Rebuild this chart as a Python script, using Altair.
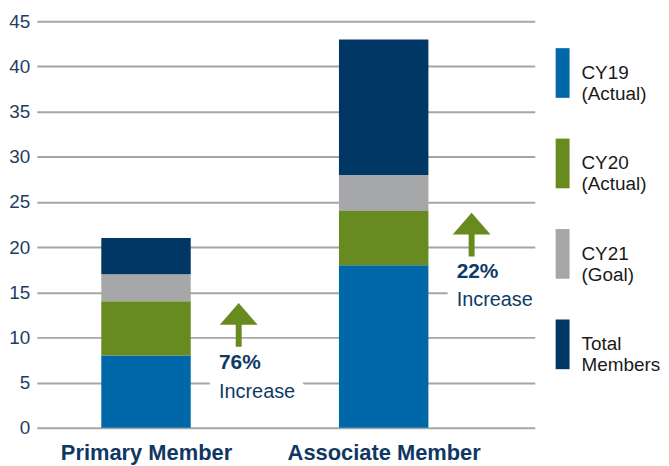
import altair as alt
import pandas as pd

# ---- data ----
categories = ["Primary Member", "Associate Member"]
cat_pos = [0, 1]
series = ["CY19", "CY20", "CY21", "Total"]
series_lines = [["CY19", "(Actual)"], ["CY20", "(Actual)"], ["CY21", "(Goal)"], ["Total", "Members"]]
primary_values = [8, 6, 3, 4]
associate_values = [18, 6, 4, 15]
colors = ["#0068a8", "#688b1f", "#a6a7a9", "#003764"]

arrow_x = [0.39, 1.37]
arrow_y = [11.4, 21.4]
text_x = [0.307, 1.307]
pct_text = ["76%", "22%"]
pct_y = [7.2, 17.3]
inc_text = ["Increase", "Increase"]
inc_y = [4.0, 14.2]

rows = []
for pos, vals in zip(cat_pos, [primary_values, associate_values]):
    for i, (s, v) in enumerate(zip(series, vals)):
        rows.append({"pos": pos, "series": s, "value": v, "order": i})
bar_df = pd.DataFrame(rows)
arrow_df = pd.DataFrame({"pos": arrow_x, "yv": arrow_y})
pct_df = pd.DataFrame({"pos": text_x, "yv": pct_y, "t": pct_text})
inc_df = pd.DataFrame({"pos": text_x, "yv": inc_y, "t": inc_text})

FONT = "Liberation Sans"
NAVY_TXT = "#0d3b66"
GREEN = "#688b1f"

x_scale = alt.Scale(domain=[-0.4385, 1.6148], nice=False, zero=False)
y_scale = alt.Scale(domain=[0, 45], nice=False)

cat_expr = "[" + ",".join(f"'{c}'" for c in categories) + "][datum.value]"
leg_expr = ""
for s, lines in zip(series, series_lines):
    leg_expr += f"datum.label == '{s}' ? [" + ",".join(f"'{l}'" for l in lines) + "] : "
leg_expr += "datum.label"

x_axis = alt.Axis(values=cat_pos, labelExpr=cat_expr, title=None, ticks=False, domain=False,
                  grid=False, labelFont=FONT, labelFontWeight="bold", labelFontSize=22,
                  labelColor="#0f3763", labelPadding=15, labelFlush=False, labelOverlap=False,
                  labelLimit=300)
y_axis = alt.Axis(values=list(range(0, 50, 5)), title=None, ticks=False, domain=False,
                  grid=True, gridColor="#a6a6a6", gridWidth=2, labelFont=FONT,
                  labelFontSize=19, labelColor="#1f3d63", labelPadding=7)

bars = alt.Chart(bar_df).mark_bar(size=90).encode(
    x=alt.X("pos:Q", scale=x_scale, axis=x_axis),
    y=alt.Y("value:Q", stack="zero", scale=y_scale, axis=y_axis),
    color=alt.Color("series:N", scale=alt.Scale(domain=series, range=colors),
                    legend=alt.Legend(title=None, orient="none", legendX=504, legendY=27,
                                      symbolType="M-0.28,-1L0.28,-1L0.28,1L-0.28,1Z",
                                      symbolSize=2500, symbolStrokeWidth=0, symbolOpacity=1,
                                      rowPadding=35, labelFont=FONT, labelFontSize=19,
                                      labelColor="#1a1a1a", labelOffset={"expr": "-6"},
                                      labelExpr=leg_expr,
                                      labelBaseline="middle", padding=0, labelLimit=200)),
    order=alt.Order("order:Q"),
)

arrow_path = "M0,-1L0.864,0L0.136,0L0.136,1L-0.136,1L-0.136,0L-0.864,0Z"
arrows = alt.Chart(arrow_df).mark_point(shape=arrow_path, size=1936, filled=True,
                                        color=GREEN, opacity=1, strokeWidth=0).encode(
    x=alt.X("pos:Q", scale=x_scale, title=None),
    y=alt.Y("yv:Q", scale=y_scale, title=None),
)

halo = alt.Chart(inc_df).mark_text(align="left", baseline="middle", font=FONT, fontSize=20,
                                   color="white", stroke="white", strokeWidth=22,
                                   strokeJoin="round").encode(
    x=alt.X("pos:Q", scale=x_scale, title=None),
    y=alt.Y("yv:Q", scale=y_scale, title=None),
    text="t:N",
)

pct = alt.Chart(pct_df).mark_text(align="left", baseline="middle", font=FONT, fontSize=21,
                                  fontWeight="bold", color=NAVY_TXT).encode(
    x=alt.X("pos:Q", scale=x_scale, title=None),
    y=alt.Y("yv:Q", scale=y_scale, title=None),
    text="t:N",
)

inc = alt.Chart(inc_df).mark_text(align="left", baseline="middle", font=FONT, fontSize=20,
                                  color=NAVY_TXT).encode(
    x=alt.X("pos:Q", scale=x_scale, title=None),
    y=alt.Y("yv:Q", scale=y_scale, title=None),
    text="t:N",
)

chart = alt.layer(bars, arrows, halo, pct, inc).properties(
    width=501, height=409,
    padding={"left": 0, "top": 3, "right": 0, "bottom": 0},
).configure_view(stroke=None)

chart.save("out.html", embed_options={"renderer": "svg", "actions": False})
